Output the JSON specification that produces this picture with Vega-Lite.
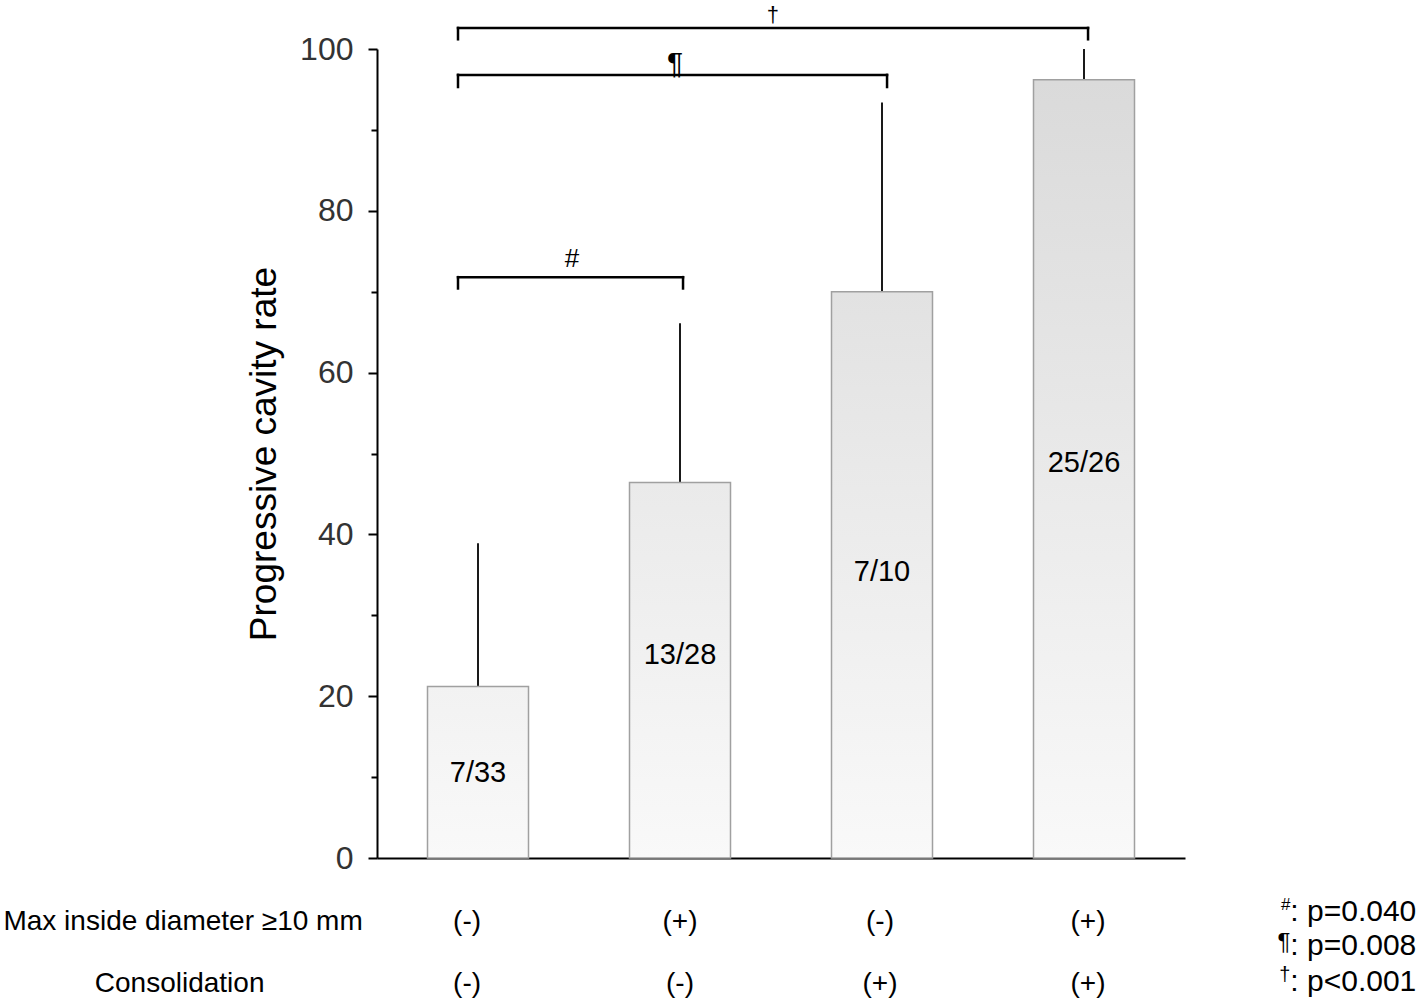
{
  "$schema": "https://vega.github.io/schema/vega-lite/v6.json",
  "width": 808,
  "height": 809,
  "autosize": {"type": "none"},
  "padding": {"left": 377, "top": 49, "right": 233, "bottom": 140},
  "background": "white",
  "config": {"view": {"stroke": null}, "font": "Liberation Sans"},
  "datasets": {
    "bars": [
      {"g": "A", "pos": 1, "rate": 21.2, "upper": 38.9, "n": "7/33", "ly": 10.5},
      {"g": "B", "pos": 2, "rate": 46.4, "upper": 66.1, "n": "13/28", "ly": 25.1},
      {"g": "C", "pos": 3, "rate": 70.0, "upper": 93.4, "n": "7/10", "ly": 35.4},
      {"g": "D", "pos": 4, "rate": 96.2, "upper": 100.0, "n": "25/26", "ly": 48.8}
    ],
    "brackets": [
      {"x1": 0.901, "x2": 2.015, "y1": 71.8, "y2": 71.8},
      {"x1": 0.901, "x2": 0.901, "y1": 71.8, "y2": 70.4},
      {"x1": 2.015, "x2": 2.015, "y1": 71.8, "y2": 70.4},
      {"x1": 0.901, "x2": 3.025, "y1": 96.8, "y2": 96.8},
      {"x1": 0.901, "x2": 0.901, "y1": 96.8, "y2": 95.3},
      {"x1": 3.025, "x2": 3.025, "y1": 96.8, "y2": 95.3},
      {"x1": 0.901, "x2": 4.02, "y1": 102.6, "y2": 102.6},
      {"x1": 0.901, "x2": 0.901, "y1": 102.6, "y2": 101.2},
      {"x1": 4.02, "x2": 4.02, "y1": 102.6, "y2": 101.2}
    ],
    "marks": [
      {"x": 1.465, "y": 74.1, "t": "#", "s": "hash"},
      {"x": 1.975, "y": 98.1, "t": "¶", "s": "pil"},
      {"x": 2.46, "y": 104.25, "t": "†", "s": "dag"}
    ],
    "rows": [
      {"x": -0.46, "y": -7.9, "t": "Max inside diameter ≥10 mm"},
      {"x": -0.477, "y": -15.6, "t": "Consolidation"},
      {"x": 0.946, "y": -7.9, "t": "(-)"},
      {"x": 2.0, "y": -7.9, "t": "(+)"},
      {"x": 2.99, "y": -7.9, "t": "(-)"},
      {"x": 4.02, "y": -7.9, "t": "(+)"},
      {"x": 0.946, "y": -15.6, "t": "(-)"},
      {"x": 2.0, "y": -15.6, "t": "(-)"},
      {"x": 2.99, "y": -15.6, "t": "(+)"},
      {"x": 4.02, "y": -15.6, "t": "(+)"}
    ],
    "legend": [
      {"x": 5.645, "y": -6.7, "t": ": p=0.040"},
      {"x": 5.645, "y": -10.9, "t": ": p=0.008"},
      {"x": 5.645, "y": -15.3, "t": ": p<0.001"}
    ],
    "legsym": [
      {"x": 5.022, "y": -5.8, "t": "#", "s": "hash"},
      {"x": 5.022, "y": -10.5, "t": "¶", "s": "pil"},
      {"x": 5.022, "y": -14.5, "t": "†", "s": "dag"}
    ]
  },
  "layer": [
    {
      "data": {"name": "bars"},
      "mark": {"type": "rule", "stroke": "#1a1a1a", "strokeWidth": 2},
      "encoding": {
        "x": {"field": "pos", "type": "quantitative", "scale": {"domain": [0.5, 4.5], "nice": false, "zero": false, "padding": 0},
              "axis": {"labels": false, "ticks": false, "title": null, "grid": false, "domainColor": "black", "domainWidth": 2}},
        "y": {"field": "rate", "type": "quantitative", "scale": {"domain": [0, 100], "nice": false},
              "axis": {
                "values": [0, 10, 20, 30, 40, 50, 60, 70, 80, 90, 100],
                "labelExpr": "datum.value % 20 === 0 ? datum.label : ''",
                "tickSize": {"condition": {"test": "datum.value % 20 === 0", "value": 9}, "value": 6},
                "tickColor": "black", "tickWidth": 2,
                "domainColor": "black", "domainWidth": 2, "grid": false,
                "labelFontSize": 32, "labelColor": "#333333", "labelPadding": 15,
                "title": "Progressive cavity rate", "titleFontSize": 37, "titleFontWeight": "normal",
                "titleColor": "black", "titlePadding": 16
              }},
        "y2": {"field": "upper"}
      }
    },
    {
      "data": {"name": "bars"},
      "mark": {"type": "bar", "width": 101, "stroke": "#a0a0a0", "strokeWidth": 1.5},
      "encoding": {
        "x": {"field": "pos", "type": "quantitative"},
        "y": {"field": "rate", "type": "quantitative"},
        "y2": {"datum": 0},
        "fill": {
          "condition": [
            {"test": "datum.g === 'A'", "value": {"gradient": "linear", "x1": 0, "y1": 1, "x2": 0, "y2": 0, "stops": [{"offset": 0, "color": "#f9f9f9"}, {"offset": 1, "color": "#f2f2f2"}]}},
            {"test": "datum.g === 'B'", "value": {"gradient": "linear", "x1": 0, "y1": 1, "x2": 0, "y2": 0, "stops": [{"offset": 0, "color": "#f9f9f9"}, {"offset": 1, "color": "#eaeaea"}]}},
            {"test": "datum.g === 'C'", "value": {"gradient": "linear", "x1": 0, "y1": 1, "x2": 0, "y2": 0, "stops": [{"offset": 0, "color": "#f9f9f9"}, {"offset": 1, "color": "#e2e2e2"}]}}
          ],
          "value": {"gradient": "linear", "x1": 0, "y1": 1, "x2": 0, "y2": 0, "stops": [{"offset": 0, "color": "#f9f9f9"}, {"offset": 1, "color": "#dadada"}]}
        }
      }
    },
    {
      "data": {"name": "bars"},
      "mark": {"type": "text", "fontSize": 29, "color": "black", "baseline": "middle", "align": "center"},
      "encoding": {
        "x": {"field": "pos", "type": "quantitative"},
        "y": {"field": "ly", "type": "quantitative"},
        "text": {"field": "n"}
      }
    },
    {
      "data": {"name": "brackets"},
      "mark": {"type": "rule", "stroke": "black", "strokeWidth": 2.5, "strokeCap": "square", "clip": false},
      "encoding": {
        "x": {"field": "x1", "type": "quantitative"},
        "x2": {"field": "x2"},
        "y": {"field": "y1", "type": "quantitative"},
        "y2": {"field": "y2"}
      }
    },
    {
      "data": {"name": "marks"},
      "mark": {"type": "text", "color": "black", "baseline": "middle", "align": "center", "clip": false},
      "encoding": {
        "x": {"field": "x", "type": "quantitative"},
        "y": {"field": "y", "type": "quantitative"},
        "text": {"field": "t"},
        "size": {"condition": [{"test": "datum.s === 'pil'", "value": 30}, {"test": "datum.s === 'dag'", "value": 22}], "value": 26}
      }
    },
    {
      "data": {"name": "rows"},
      "mark": {"type": "text", "fontSize": 28, "color": "black", "baseline": "middle", "align": "center", "clip": false},
      "encoding": {
        "x": {"field": "x", "type": "quantitative"},
        "y": {"field": "y", "type": "quantitative"},
        "text": {"field": "t"}
      }
    },
    {
      "data": {"name": "legend"},
      "mark": {"type": "text", "fontSize": 30, "color": "black", "baseline": "middle", "align": "right", "clip": false},
      "encoding": {
        "x": {"field": "x", "type": "quantitative"},
        "y": {"field": "y", "type": "quantitative"},
        "text": {"field": "t"}
      }
    },
    {
      "data": {"name": "legsym"},
      "mark": {"type": "text", "color": "black", "baseline": "middle", "align": "right", "clip": false},
      "encoding": {
        "x": {"field": "x", "type": "quantitative"},
        "y": {"field": "y", "type": "quantitative"},
        "text": {"field": "t"},
        "size": {"condition": [{"test": "datum.s === 'pil'", "value": 24}, {"test": "datum.s === 'dag'", "value": 20}], "value": 17}
      }
    }
  ]
}
